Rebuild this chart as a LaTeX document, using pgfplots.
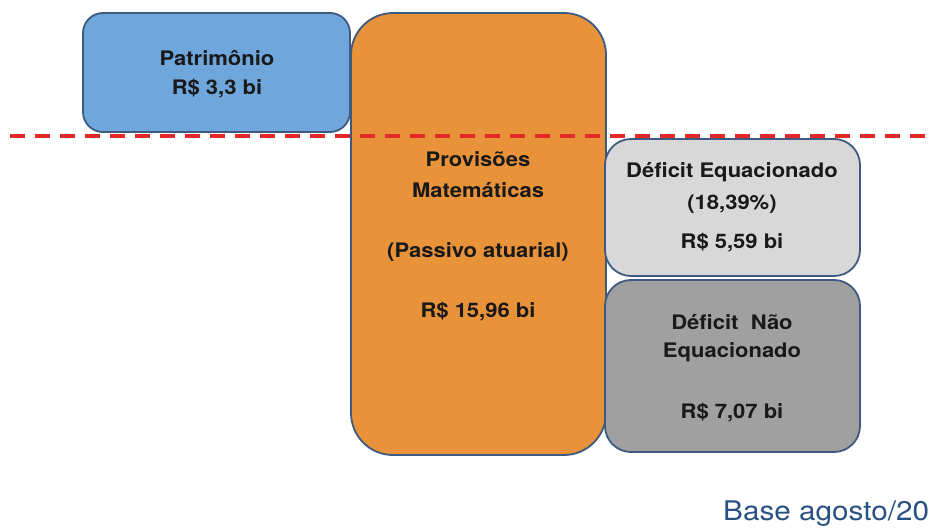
\documentclass[border=0pt]{standalone}
\usepackage{fontspec}
\setmainfont{TeX Gyre Heros}
\usepackage{graphicx}
\usepackage{pgfplots}
\pgfplotsset{compat=1.18}
\definecolor{pblue}{RGB}{111,166,220}
\definecolor{porange}{RGB}{232,146,58}
\definecolor{plgray}{RGB}{216,216,216}
\definecolor{pdgray}{RGB}{160,160,160}
\definecolor{bord}{RGB}{62,90,128}
\definecolor{pred}{RGB}{226,40,40}
\definecolor{ptext}{RGB}{25,25,25}
\definecolor{pbase}{RGB}{40,80,130}
\tikzset{lbl/.style={font=\bfseries\fontsize{20bp}{24bp}\selectfont,text=ptext,anchor=center,inner sep=0pt}}
\newcommand{\sx}[1]{\scalebox{1.1}[1]{#1}}
\begin{document}
\begin{tikzpicture}
\clip (0,0) rectangle (930bp,528bp);
\begin{axis}[at={(0,0)},anchor=south west,scale only axis,width=930bp,height=528bp,
  xmin=0,xmax=930,ymin=0,ymax=528,y dir=reverse,axis lines=none,clip=false]
% Patrimonio
\addplot[fill=pblue,draw=bord,line width=1.8bp,rounded corners=20bp,mark=none]
  coordinates {(216,13) (350,13) (350,132) (83,132) (83,13)} -- cycle;
% Provisoes matematicas
\addplot[fill=porange,draw=bord,line width=1.8bp,rounded corners=42bp,mark=none]
  coordinates {(478,13) (606,13) (606,455) (351,455) (351,13)} -- cycle;
% Deficit equacionado
\addplot[fill=plgray,draw=bord,line width=1.8bp,rounded corners=26bp,mark=none]
  coordinates {(732,139) (860,139) (860,276) (605,276) (605,139)} -- cycle;
% Deficit nao equacionado
\addplot[fill=pdgray,draw=bord,line width=1.8bp,rounded corners=26bp,mark=none]
  coordinates {(732,280) (860,280) (860,452) (605,452) (605,280)} -- cycle;
% dashed line
\addplot[pred,line width=4bp,dash pattern=on 15bp off 10bp,mark=none]
  coordinates {(10,135.5) (930,135.5)};
\node[lbl] at (axis cs:217,58) {\sx{Patrimônio}};
\node[lbl] at (axis cs:217,89) {\sx{R\$ 3,3 bi}};
\node[lbl] at (axis cs:478,159) {\sx{Provisões}};
\node[lbl] at (axis cs:478,190) {\sx{Matemáticas}};
\node[lbl] at (axis cs:478,252) {\sx{(Passivo atuarial)}};
\node[lbl] at (axis cs:478,312) {\sx{R\$ 15,96 bi}};
\node[lbl] at (axis cs:732,172) {\sx{Déficit Equacionado}};
\node[lbl] at (axis cs:732,204) {\sx{(18,39\%)}};
\node[lbl] at (axis cs:732,243) {\sx{R\$ 5,59 bi}};
\node[lbl] at (axis cs:732,322) {\sx{Déficit\ \ Não}};
\node[lbl] at (axis cs:732,352) {\sx{Equacionado}};
\node[lbl] at (axis cs:732,413) {\sx{R\$ 7,07 bi}};
\node[anchor=base west,font=\fontsize{27bp}{30bp}\selectfont,text=pbase,inner sep=0pt] at (axis cs:723,520) {\scalebox{1.1}[1]{Base agosto/20}};
\end{axis}
\end{tikzpicture}
\end{document}
